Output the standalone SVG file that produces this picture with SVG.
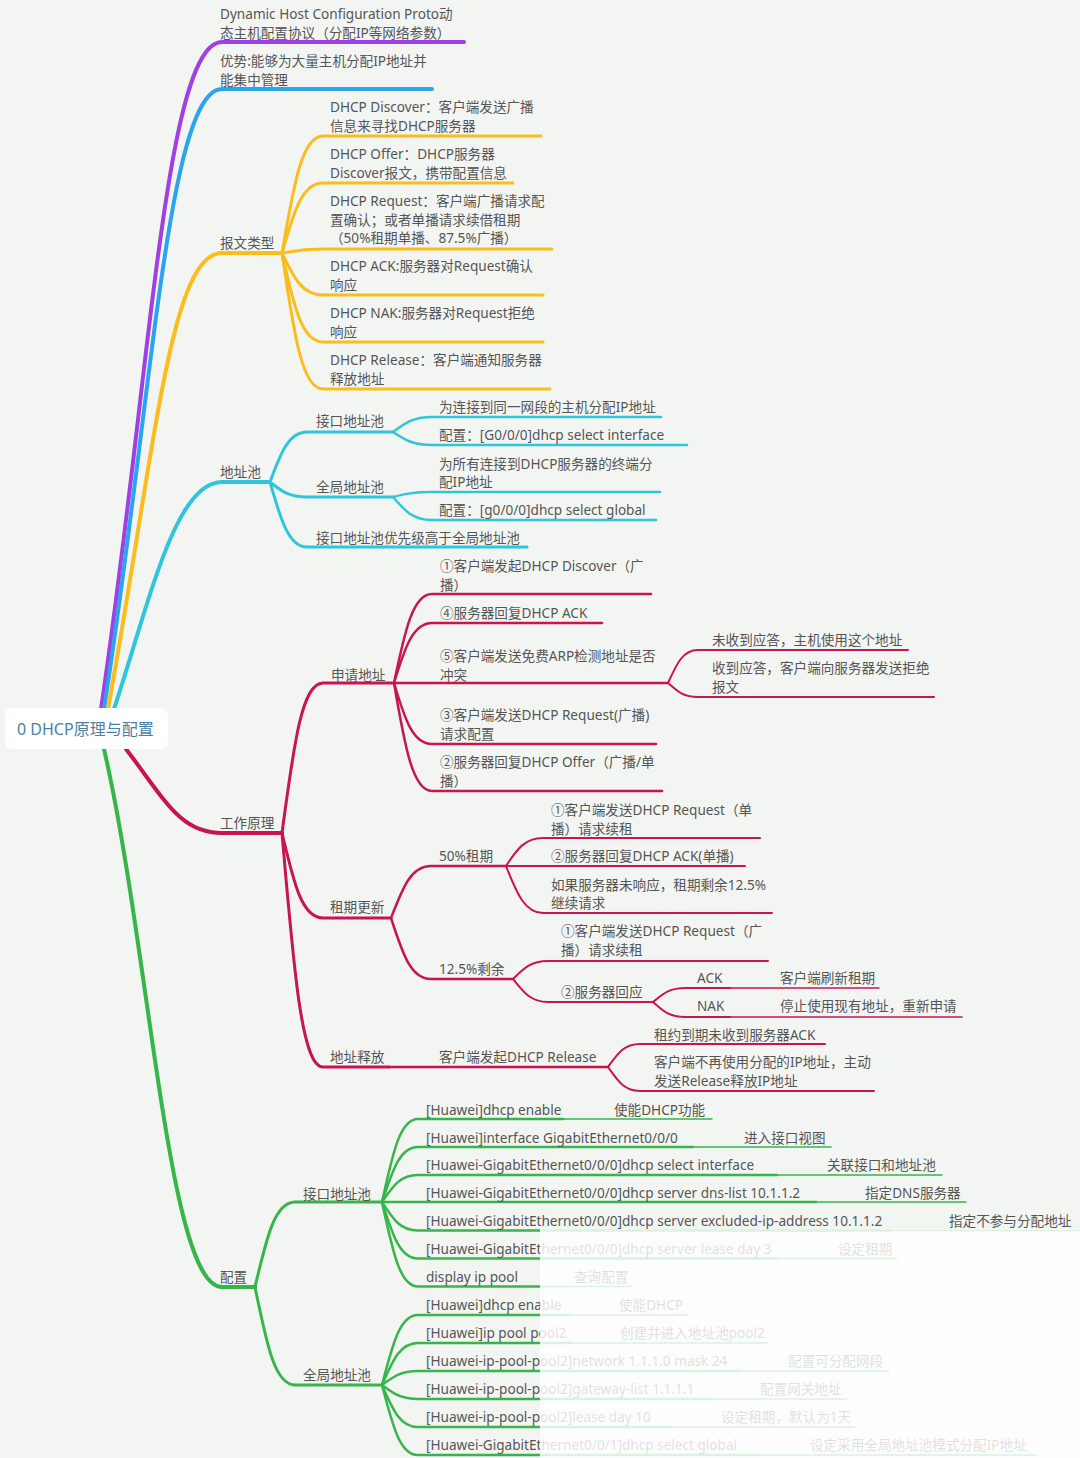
<svg xmlns="http://www.w3.org/2000/svg" width="1080" height="1458" viewBox="0 0 1080 1458">
<style>
.t{font-family:"Noto Sans","Noto Sans CJK SC",sans-serif;font-size:13.6px;fill:#555}
.rt{font-family:"Noto Sans","Noto Sans CJK SC",sans-serif;font-size:16px;fill:#4a82a6}
.e{fill:none;stroke-linecap:round;stroke-linejoin:round}
.w1{stroke-width:4}.w2{stroke-width:3}.w3{stroke-width:2.5}.w4{stroke-width:2}.w5{stroke-width:1.5}
.pu{stroke:#a03fe3}.bl{stroke:#2ba4ef}.or{stroke:#fbbc1c}.cy{stroke:#2fc6dc}.rd{stroke:#c8154f}.gr{stroke:#36b54a}
</style>
<rect x="0" y="0" width="1080" height="1458" fill="#f3f5f3"/>
<g id="connectors">
<path class="e w1 pu" d="M101,709 C150,380 165,42 222,42 H464"/>
<path class="e w1 bl" d="M104,709 C152,400 168,89 222,89 H432"/>
<path class="e w1 or" d="M108,709 C155,450 170,253 222,253 H282"/>
<path class="e w1 cy" d="M114,709 C150,600 175,482 222,482 H270"/>
<path class="e w1 rd" d="M126,749 C165,800 180,833 222,833 H282"/>
<path class="e w1 gr" d="M104,749 C150,950 168,1287 222,1287 H255"/>
<path class="e w2 or" d="M282,253 C294,183 302,136 323,136 H541"/>
<path class="e w2 or" d="M282,253 C294,211 302,183 323,183 H513"/>
<path class="e w2 or" d="M282,253 C294,251 302,249 323,249 H552"/>
<path class="e w2 or" d="M282,253 C294,278 302,295 323,295 H543"/>
<path class="e w2 or" d="M282,253 C294,307 302,342 323,342 H543"/>
<path class="e w2 or" d="M282,253 C294,335 302,389 323,389 H550"/>
<path class="e w2 cy" d="M270,482 C281,452 289,432 307,432 H393"/>
<path class="e w2 cy" d="M270,482 C281,491 289,497 307,497 H393"/>
<path class="e w2 cy" d="M270,482 C281,521 289,547 307,547 H527"/>
<path class="e w3 cy" d="M393,432 C405,423 413,417 432,417 H661"/>
<path class="e w3 cy" d="M393,432 C405,440 413,445 432,445 H687"/>
<path class="e w3 cy" d="M393,497 C405,494 413,492 432,492 H660"/>
<path class="e w3 cy" d="M393,497 C405,511 413,520 432,520 H656"/>
<path class="e w2 rd" d="M282,833 C294,743 302,683 323,683 H394"/>
<path class="e w2 rd" d="M282,833 C294,884 302,918 323,918 H391"/>
<path class="e w2 rd" d="M282,833 C294,973 302,1067 323,1067 H389"/>
<path class="e w3 rd" d="M394,683 C405,630 413,594 432,594 H651"/>
<path class="e w3 rd" d="M394,683 C405,647 413,623 432,623 H602"/>
<path class="e w3 rd" d="M394,683 H668"/>
<path class="e w3 rd" d="M394,683 C405,720 413,744 432,744 H656"/>
<path class="e w3 rd" d="M394,683 C405,748 413,791 432,791 H662"/>
<path class="e w4 rd" d="M668,683 C677,663 683,650 698,650 H908"/>
<path class="e w4 rd" d="M668,683 C677,691 683,697 698,697 H934"/>
<path class="e w3 rd" d="M391,918 C403,887 411,866 431,866 H506"/>
<path class="e w3 rd" d="M391,918 C403,955 411,979 431,979 H513"/>
<path class="e w4 rd" d="M506,866 C517,849 525,838 543,838 H760"/>
<path class="e w4 rd" d="M506,866 H745"/>
<path class="e w4 rd" d="M506,866 C517,894 525,913 543,913 H772"/>
<path class="e w4 rd" d="M513,979 C524,968 531,961 548,961 H768"/>
<path class="e w4 rd" d="M513,979 C524,993 531,1002 548,1002 H653"/>
<path class="e w4 rd" d="M653,1002 C663,994 669,988 685,988 H730"/>
<path class="e w5 rd" d="M730,988 H879"/>
<path class="e w4 rd" d="M653,1002 C663,1011 669,1017 685,1017 H730"/>
<path class="e w5 rd" d="M730,1017 H962"/>
<path class="e w3 rd" d="M389,1067 H608"/>
<path class="e w4 rd" d="M608,1067 C618,1053 624,1044 640,1044 H825"/>
<path class="e w4 rd" d="M608,1067 C618,1081 624,1091 640,1091 H874"/>
<path class="e w2 gr" d="M255,1287 C267,1236 275,1202 295,1202 H382"/>
<path class="e w2 gr" d="M255,1287 C267,1346 275,1385 295,1385 H382"/>
<path class="e w3 gr" d="M382,1202 C393,1152 400,1119 418,1119 H563"/>
<path class="e w5 gr" d="M563,1119 H712"/>
<path class="e w3 gr" d="M382,1202 C393,1169 400,1147 418,1147 H693"/>
<path class="e w5 gr" d="M693,1147 H831"/>
<path class="e w3 gr" d="M382,1202 C393,1186 400,1175 418,1175 H777"/>
<path class="e w5 gr" d="M777,1175 H942"/>
<path class="e w3 gr" d="M382,1202 H816"/>
<path class="e w5 gr" d="M816,1202 H966"/>
<path class="e w3 gr" d="M382,1202 C393,1219 400,1230.5 418,1230.5 H890"/>
<path class="e w5 gr" d="M890,1230.5 H1080"/>
<path class="e w3 gr" d="M382,1202 C393,1236 400,1258.5 418,1258.5 H777"/>
<path class="e w5 gr" d="M777,1258.5 H897"/>
<path class="e w3 gr" d="M382,1202 C393,1253 400,1286.5 418,1286.5 H540"/>
<path class="e w5 gr" d="M540,1286.5 H632"/>
<path class="e w3 gr" d="M382,1385 C393,1343 400,1315 418,1315 H570"/>
<path class="e w5 gr" d="M570,1315 H688"/>
<path class="e w3 gr" d="M382,1385 C393,1360 400,1343 418,1343 H572"/>
<path class="e w5 gr" d="M572,1343 H768"/>
<path class="e w3 gr" d="M382,1385 C393,1377 400,1371 418,1371 H739"/>
<path class="e w5 gr" d="M739,1371 H889"/>
<path class="e w3 gr" d="M382,1385 C393,1393 400,1399 418,1399 H713"/>
<path class="e w5 gr" d="M713,1399 H847"/>
<path class="e w3 gr" d="M382,1385 C393,1410 400,1427 418,1427 H672"/>
<path class="e w5 gr" d="M672,1427 H854"/>
<path class="e w3 gr" d="M382,1385 C393,1427 400,1455 418,1455 H760"/>
<path class="e w5 gr" d="M760,1455 H1036"/>
</g>
<g id="root">
<rect x="5" y="708" width="163" height="41" rx="7" fill="#ffffff"/>
<text class="rt" x="17" y="735">0 DHCP原理与配置</text>
</g>
<g id="n-dhcp-def"><text class="t" x="220" y="19">Dynamic Host Configuration Proto动</text><text class="t" x="220" y="37.5">态主机配置协议（分配IP等网络参数）</text></g>
<g id="n-adv"><text class="t" x="220" y="65.7">优势:能够为大量主机分配IP地址并</text><text class="t" x="220" y="84.5">能集中管理</text></g>
<g id="n-msg"><text class="t" x="220" y="248">报文类型</text></g>
<g id="n-discover"><text class="t" x="330" y="112.4">DHCP Discover：客户端发送广播</text><text class="t" x="330" y="131.2">信息来寻找DHCP服务器</text></g>
<g id="n-offer"><text class="t" x="330" y="159">DHCP Offer：DHCP服务器</text><text class="t" x="330" y="177.7">Discover报文，携带配置信息</text></g>
<g id="n-request"><text class="t" x="330" y="206">DHCP Request：客户端广播请求配</text><text class="t" x="330" y="224.7">置确认；或者单播请求续借租期</text><text class="t" x="330" y="243.4">（50%租期单播、87.5%广播）</text></g>
<g id="n-ack"><text class="t" x="330" y="271.4">DHCP ACK:服务器对Request确认</text><text class="t" x="330" y="290.2">响应</text></g>
<g id="n-nak"><text class="t" x="330" y="318">DHCP NAK:服务器对Request拒绝</text><text class="t" x="330" y="337">响应</text></g>
<g id="n-release"><text class="t" x="330" y="365.4">DHCP Release：客户端通知服务器</text><text class="t" x="330" y="384">释放地址</text></g>
<g id="n-pool"><text class="t" x="220" y="477.2">地址池</text></g>
<g id="n-ifpool"><text class="t" x="316" y="426.4">接口地址池</text></g>
<g id="n-ifpool-1"><text class="t" x="439" y="412">为连接到同一网段的主机分配IP地址</text></g>
<g id="n-ifpool-2"><text class="t" x="439" y="439.7">配置：[G0/0/0]dhcp select interface</text></g>
<g id="n-glpool"><text class="t" x="316" y="492">全局地址池</text></g>
<g id="n-glpool-1"><text class="t" x="439" y="468.7">为所有连接到DHCP服务器的终端分</text><text class="t" x="439" y="487.4">配IP地址</text></g>
<g id="n-glpool-2"><text class="t" x="439" y="514.7">配置：[g0/0/0]dhcp select global</text></g>
<g id="n-prio"><text class="t" x="316" y="543">接口地址池优先级高于全局地址池</text></g>
<g id="n-work"><text class="t" x="220" y="828">工作原理</text></g>
<g id="n-apply"><text class="t" x="331" y="679.7">申请地址</text></g>
<g id="n-a1"><text class="t" x="440" y="571.4">①客户端发起DHCP Discover（广</text><text class="t" x="440" y="590.2">播）</text></g>
<g id="n-a4"><text class="t" x="440" y="618">④服务器回复DHCP ACK</text></g>
<g id="n-a5"><text class="t" x="440" y="660.7">⑤客户端发送免费ARP检测地址是否</text><text class="t" x="440" y="679.7">冲突</text></g>
<g id="n-a5-1"><text class="t" x="712" y="645.4">未收到应答，主机使用这个地址</text></g>
<g id="n-a5-2"><text class="t" x="712" y="673">收到应答，客户端向服务器发送拒绝</text><text class="t" x="712" y="692">报文</text></g>
<g id="n-a3"><text class="t" x="440" y="720.4">③客户端发送DHCP Request(广播)</text><text class="t" x="440" y="739.4">请求配置</text></g>
<g id="n-a2"><text class="t" x="440" y="767">②服务器回复DHCP Offer（广播/单</text><text class="t" x="440" y="785.7">播）</text></g>
<g id="n-renew"><text class="t" x="330" y="912">租期更新</text></g>
<g id="n-r50"><text class="t" x="439" y="861.4">50%租期</text></g>
<g id="n-r50-1"><text class="t" x="551" y="814.7">①客户端发送DHCP Request（单</text><text class="t" x="551" y="833.5">播）请求续租</text></g>
<g id="n-r50-2"><text class="t" x="551" y="861.4">②服务器回复DHCP ACK(单播)</text></g>
<g id="n-r50-3"><text class="t" x="551" y="889.7">如果服务器未响应，租期剩余12.5%</text><text class="t" x="551" y="908.2">继续请求</text></g>
<g id="n-r125"><text class="t" x="439" y="974">12.5%剩余</text></g>
<g id="n-r125-1"><text class="t" x="561" y="936.4">①客户端发送DHCP Request（广</text><text class="t" x="561" y="955.4">播）请求续租</text></g>
<g id="n-r125-2"><text class="t" x="561" y="996.7">②服务器回应</text></g>
<g id="n-ack2"><text class="t" x="697" y="983">ACK</text></g>
<g id="n-ack2-1"><text class="t" x="780" y="983">客户端刷新租期</text></g>
<g id="n-nak2"><text class="t" x="697" y="1011.4">NAK</text></g>
<g id="n-nak2-1"><text class="t" x="780" y="1011.4">停止使用现有地址，重新申请</text></g>
<g id="n-free"><text class="t" x="330" y="1062.4">地址释放</text></g>
<g id="n-free-1"><text class="t" x="439" y="1062.4">客户端发起DHCP Release</text></g>
<g id="n-free-1a"><text class="t" x="654" y="1039.7">租约到期未收到服务器ACK</text></g>
<g id="n-free-1b"><text class="t" x="654" y="1067.4">客户端不再使用分配的IP地址，主动</text><text class="t" x="654" y="1086.2">发送Release释放IP地址</text></g>
<g id="n-config"><text class="t" x="220" y="1282.3">配置</text></g>
<g id="n-cfg-if"><text class="t" x="303" y="1198.7">接口地址池</text></g>
<g id="n-c1"><text class="t" x="426" y="1114.7">[Huawei]dhcp enable</text><text class="t" x="614" y="1114.7">使能DHCP功能</text></g>
<g id="n-c2"><text class="t" x="426" y="1142.5">[Huawei]interface GigabitEthernet0/0/0</text><text class="t" x="744" y="1142.5">进入接口视图</text></g>
<g id="n-c3"><text class="t" x="426" y="1170.4">[Huawei-GigabitEthernet0/0/0]dhcp select interface</text><text class="t" x="827" y="1170.4">关联接口和地址池</text></g>
<g id="n-c4"><text class="t" x="426" y="1198.3">[Huawei-GigabitEthernet0/0/0]dhcp server dns-list 10.1.1.2</text><text class="t" x="865" y="1198.3">指定DNS服务器</text></g>
<g id="n-c5"><text class="t" x="426" y="1226.2">[Huawei-GigabitEthernet0/0/0]dhcp server excluded-ip-address 10.1.1.2</text><text class="t" x="949" y="1226.2">指定不参与分配地址</text></g>
<g id="n-c6"><text class="t" x="426" y="1254">[Huawei-GigabitEthernet0/0/0]dhcp server lease day 3</text><text class="t" x="838" y="1254">设定租期</text></g>
<g id="n-c7"><text class="t" x="426" y="1281.8">display ip pool</text><text class="t" x="574" y="1281.8">查询配置</text></g>
<g id="n-cfg-gl"><text class="t" x="303" y="1379.7">全局地址池</text></g>
<g id="n-g1"><text class="t" x="426" y="1309.7">[Huawei]dhcp enable</text><text class="t" x="619" y="1309.7">使能DHCP</text></g>
<g id="n-g2"><text class="t" x="426" y="1337.7">[Huawei]ip pool pool2</text><text class="t" x="620" y="1337.7">创建并进入地址池pool2</text></g>
<g id="n-g3"><text class="t" x="426" y="1365.7">[Huawei-ip-pool-pool2]network 1.1.1.0 mask 24</text><text class="t" x="788" y="1365.7">配置可分配网段</text></g>
<g id="n-g4"><text class="t" x="426" y="1393.7">[Huawei-ip-pool-pool2]gateway-list 1.1.1.1</text><text class="t" x="760" y="1393.7">配置网关地址</text></g>
<g id="n-g5"><text class="t" x="426" y="1421.7">[Huawei-ip-pool-pool2]lease day 10</text><text class="t" x="721" y="1421.7">设定租期，默认为1天</text></g>
<g id="n-g6"><text class="t" x="426" y="1449.7">[Huawei-GigabitEthernet0/0/1]dhcp select global</text><text class="t" x="810" y="1449.7">设定采用全局地址池模式分配IP地址</text></g>
<rect x="540" y="1229" width="540" height="229" fill="#ffffff" fill-opacity="0.82"/>
</svg>
